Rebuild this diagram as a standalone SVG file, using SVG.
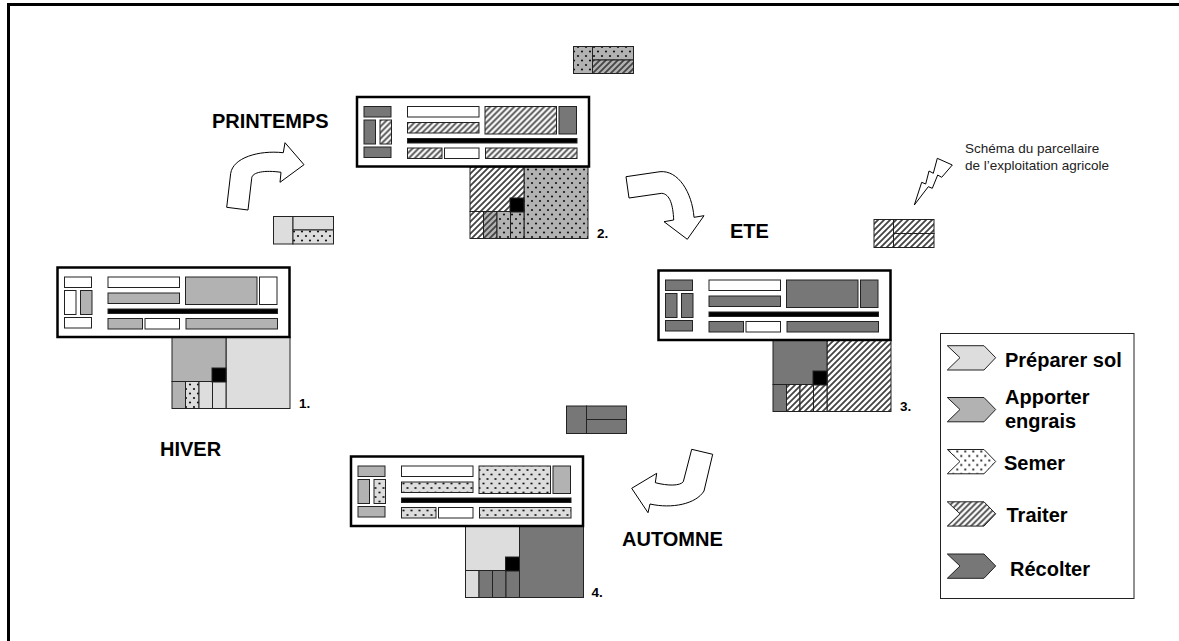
<svg xmlns="http://www.w3.org/2000/svg" width="1179" height="641" viewBox="0 0 1179 641">
<style>
text{font-family:"Liberation Sans",Arial,sans-serif;fill:#000}
.t{font-size:20px;font-weight:bold}
.n{font-size:13.5px;font-weight:bold}
.c{font-size:13.5px;fill:#222}
rect,.ch{stroke:#222;stroke-width:1}
.w{fill:#fff}.l{fill:#ddd}.m{fill:#b2b2b2}.d{fill:#777}
.h{fill:url(#hatch)}.hm{fill:url(#hatchM)}
.p{fill:url(#dots)}.pl{fill:url(#dotsL)}.pm{fill:url(#dotsM)}
.k{fill:#000}
.f{fill:#fff;stroke:#000;stroke-width:2.5}
.a{fill:#fff;stroke:#000;stroke-width:1;stroke-linejoin:miter}
</style>
<defs>
<pattern id="hatch" width="6" height="6" patternUnits="userSpaceOnUse"><path d="M0,0H6V6H0Z" fill="#fff"/><path d="M-1,1L1,-1M0,6L6,0M5,7L7,5" stroke="#444" stroke-width="1.8"/></pattern>
<pattern id="hatchM" width="6" height="6" patternUnits="userSpaceOnUse"><path d="M0,0H6V6H0Z" fill="#b2b2b2"/><path d="M-1,1L1,-1M0,6L6,0M5,7L7,5" stroke="#444" stroke-width="1.8"/></pattern>
<pattern id="dots" width="8" height="9" patternUnits="userSpaceOnUse"><path d="M0,0H8V9H0Z" fill="#fff"/><circle cx="2" cy="2" r="1.1" fill="#111"/><circle cx="6" cy="6.5" r="1.1" fill="#111"/></pattern>
<pattern id="dotsL" width="8" height="9" patternUnits="userSpaceOnUse"><path d="M0,0H8V9H0Z" fill="#ddd"/><circle cx="2" cy="2" r="1.1" fill="#111"/><circle cx="6" cy="6.5" r="1.1" fill="#111"/></pattern>
<pattern id="dotsM" width="8" height="9" patternUnits="userSpaceOnUse"><path d="M0,0H8V9H0Z" fill="#b2b2b2"/><circle cx="2" cy="2" r="1.1" fill="#111"/><circle cx="6" cy="6.5" r="1.1" fill="#111"/></pattern>
<polygon id="chev" points="0,0 36.7,0 48.4,12 36.7,24.3 0,24.3 12.7,12"/>
</defs>

<path id="cadre" d="M8.5,641V4.5H1179" fill="none" stroke="#000" stroke-width="3"/>

<g id="connecteurs">
<path class="a" d="M226.7,207.3L230.7,173.3C233,158 258,150 283.3,152.7L285,142.7L304,164.7L280,182.3L281,172.3C265,170 252,172 251.7,178.3L248,210Z"/>
<path class="a" d="M626,176.7L660,171.7C678,170 692,192 694,217.3L704,215.7L687.3,239.3L664,221.7L673.7,220C673,205 670,194 661.7,193.3L629,198Z"/>
<path class="a" d="M691.7,449.3L712.7,454.3L704,491C696,504 672,509 650,504L648,512.7L631.7,488.3L656.7,473.3L655.3,482.7C668,486 680,486 683.3,481.7Z"/>
<path class="a" d="M914.3,205L921.7,182.3L925.7,184L929,171L933.3,173.3L937.3,158.3L952.3,165L941.7,177.3L937.7,175L932.3,188.3L928.3,186.7Z"/>
</g>

<g id="hiver">
<rect class="l" x="226" y="337" width="64" height="71.5"/>
<rect class="m" x="172" y="337" width="54" height="44.5"/>
<rect class="m" x="172" y="381.5" width="13.5" height="27"/>
<rect class="pl" x="185.5" y="381.5" width="13.5" height="27"/>
<rect class="l" x="199" y="381.5" width="13.5" height="27"/>
<rect class="l" x="212.5" y="381.5" width="13.5" height="27"/>
<rect class="k" x="212" y="368" width="14" height="14"/>
<rect class="f" x="57.5" y="267.5" width="232" height="69.5"/>
<rect class="w" x="64.5" y="277" width="27" height="10.5"/>
<rect class="w" x="64.5" y="290.5" width="11.5" height="24"/>
<rect class="m" x="80.5" y="290.5" width="11.5" height="24"/>
<rect class="w" x="64.5" y="317.5" width="27" height="10.5"/>
<rect class="w" x="108" y="277" width="71.5" height="10.5"/>
<rect class="m" x="108" y="293" width="71.5" height="10.5"/>
<rect class="m" x="185.5" y="277" width="71.5" height="27.5"/>
<rect class="w" x="259.5" y="277" width="17.5" height="27.5"/>
<rect class="k" x="108" y="309" width="169.5" height="4.5"/>
<rect class="m" x="108" y="318.5" width="34.5" height="10.5"/>
<rect class="w" x="145" y="318.5" width="34.5" height="10.5"/>
<rect class="m" x="186" y="318.5" width="91.5" height="10.5"/>
<text class="n" x="299" y="408">1.</text>
<text class="t" x="160" y="456">HIVER</text>
<rect class="l" x="273.5" y="216.5" width="19.5" height="27.5"/>
<rect class="l" x="293" y="216.5" width="40.5" height="13.5"/>
<rect class="pl" x="293" y="230" width="40.5" height="14"/>
</g>

<g id="printemps">
<g transform="translate(298,-170)">
<rect class="pm" x="226" y="337" width="64" height="71.5"/>
<rect class="h" x="172" y="337" width="54" height="44.5"/>
<rect class="h" x="172" y="381.5" width="13.5" height="27"/>
<rect class="hm" x="185.5" y="381.5" width="13.5" height="27"/>
<rect class="pm" x="199" y="381.5" width="13.5" height="27"/>
<rect class="pm" x="212.5" y="381.5" width="13.5" height="27"/>
<rect class="k" x="212" y="368" width="14" height="14"/>
</g>
<g transform="translate(299.5,-170.5)">
<rect class="f" x="57.5" y="267.5" width="232" height="69.5"/>
<rect class="d" x="64.5" y="277" width="27" height="10.5"/>
<rect class="d" x="64.5" y="290.5" width="11.5" height="24"/>
<rect class="h" x="80.5" y="290.5" width="11.5" height="24"/>
<rect class="d" x="64.5" y="317.5" width="27" height="10.5"/>
<rect class="w" x="108" y="277" width="71.5" height="10.5"/>
<rect class="h" x="108" y="293" width="71.5" height="10.5"/>
<rect class="h" x="185.5" y="277" width="71.5" height="27.5"/>
<rect class="d" x="259.5" y="277" width="17.5" height="27.5"/>
<rect class="k" x="108" y="309" width="169.5" height="4.5"/>
<rect class="h" x="108" y="318.5" width="34.5" height="10.5"/>
<rect class="w" x="145" y="318.5" width="34.5" height="10.5"/>
<rect class="h" x="186" y="318.5" width="91.5" height="10.5"/>
</g>
<text class="n" x="597" y="238">2.</text>
<text class="t" x="212" y="128">PRINTEMPS</text>
<rect class="pm" x="573.5" y="46.5" width="19" height="27"/>
<rect class="pm" x="592.5" y="46.5" width="41" height="13.5"/>
<rect class="hm" x="592.5" y="60" width="41" height="13.5"/>
</g>

<g id="ete">
<g transform="translate(601,3)">
<rect class="h" x="226" y="337" width="64" height="71.5"/>
<rect class="d" x="172" y="337" width="54" height="44.5"/>
<rect class="d" x="172" y="381.5" width="13.5" height="27"/>
<rect class="h" x="185.5" y="381.5" width="13.5" height="27"/>
<rect class="h" x="199" y="381.5" width="13.5" height="27"/>
<rect class="h" x="212.5" y="381.5" width="13.5" height="27"/>
<rect class="k" x="212" y="368" width="14" height="14"/>
<rect class="f" x="57.5" y="267.5" width="232" height="69.5"/>
<rect class="d" x="64.5" y="277" width="27" height="10.5"/>
<rect class="d" x="64.5" y="290.5" width="11.5" height="24"/>
<rect class="d" x="80.5" y="290.5" width="11.5" height="24"/>
<rect class="d" x="64.5" y="317.5" width="27" height="10.5"/>
<rect class="w" x="108" y="277" width="71.5" height="10.5"/>
<rect class="d" x="108" y="293" width="71.5" height="10.5"/>
<rect class="d" x="185.5" y="277" width="71.5" height="27.5"/>
<rect class="d" x="259.5" y="277" width="17.5" height="27.5"/>
<rect class="k" x="108" y="309" width="169.5" height="4.5"/>
<rect class="d" x="108" y="318.5" width="34.5" height="10.5"/>
<rect class="w" x="145" y="318.5" width="34.5" height="10.5"/>
<rect class="d" x="186" y="318.5" width="91.5" height="10.5"/>
</g>
<text class="n" x="900" y="411">3.</text>
<text class="t" x="730" y="238">ETE</text>
<rect class="h" x="874" y="219.5" width="19.5" height="28"/>
<rect class="h" x="893.5" y="219.5" width="40.5" height="14"/>
<rect class="h" x="893.5" y="233.5" width="40.5" height="14"/>
</g>

<g id="automne">
<g transform="translate(293.5,189)">
<rect class="d" x="226" y="337" width="64" height="71.5"/>
<rect class="l" x="172" y="337" width="54" height="44.5"/>
<rect class="l" x="172" y="381.5" width="13.5" height="27"/>
<rect class="d" x="185.5" y="381.5" width="13.5" height="27"/>
<rect class="d" x="199" y="381.5" width="13.5" height="27"/>
<rect class="d" x="212.5" y="381.5" width="13.5" height="27"/>
<rect class="k" x="212" y="368" width="14" height="14"/>
<rect class="f" x="57.5" y="267.5" width="232" height="69.5"/>
<rect class="m" x="64.5" y="277" width="27" height="10.5"/>
<rect class="m" x="64.5" y="290.5" width="11.5" height="24"/>
<rect class="pl" x="80.5" y="290.5" width="11.5" height="24"/>
<rect class="m" x="64.5" y="317.5" width="27" height="10.5"/>
<rect class="w" x="108" y="277" width="71.5" height="10.5"/>
<rect class="pl" x="108" y="293" width="71.5" height="10.5"/>
<rect class="pl" x="185.5" y="277" width="71.5" height="27.5"/>
<rect class="m" x="259.5" y="277" width="17.5" height="27.5"/>
<rect class="k" x="108" y="309" width="169.5" height="4.5"/>
<rect class="pl" x="108" y="318.5" width="34.5" height="10.5"/>
<rect class="w" x="145" y="318.5" width="34.5" height="10.5"/>
<rect class="pl" x="186" y="318.5" width="91.5" height="10.5"/>
</g>
<text class="n" x="591.5" y="597">4.</text>
<text class="t" x="622" y="545.5">AUTOMNE</text>
<rect class="d" x="566.5" y="406" width="20" height="27.5"/>
<rect class="d" x="586.5" y="406" width="40" height="13.5"/>
<rect class="d" x="586.5" y="419.5" width="40" height="14"/>
</g>

<g id="legende">
<rect x="940.5" y="333.5" width="193.5" height="265" fill="#fff" stroke="#333"/>
<use href="#chev" class="ch l" x="947.3" y="345.7"/>
<use href="#chev" class="ch m" x="947.3" y="397.5"/>
<use href="#chev" class="ch p" x="947.3" y="449.5"/>
<use href="#chev" class="ch h" x="947.3" y="501.8"/>
<use href="#chev" class="ch d" x="947.3" y="554"/>
<text class="t" x="1005" y="367">Préparer sol</text>
<text class="t" x="1005" y="404">Apporter</text>
<text class="t" x="1005" y="427.5">engrais</text>
<text class="t" x="1004" y="470">Semer</text>
<text class="t" x="1006.5" y="521.5">Traiter</text>
<text class="t" x="1010" y="576">Récolter</text>
</g>

<g id="legende-schema">
<text class="c" x="965" y="153">Schéma du parcellaire</text>
<text class="c" x="965" y="170">de l’exploitation agricole</text>
</g>
</svg>
